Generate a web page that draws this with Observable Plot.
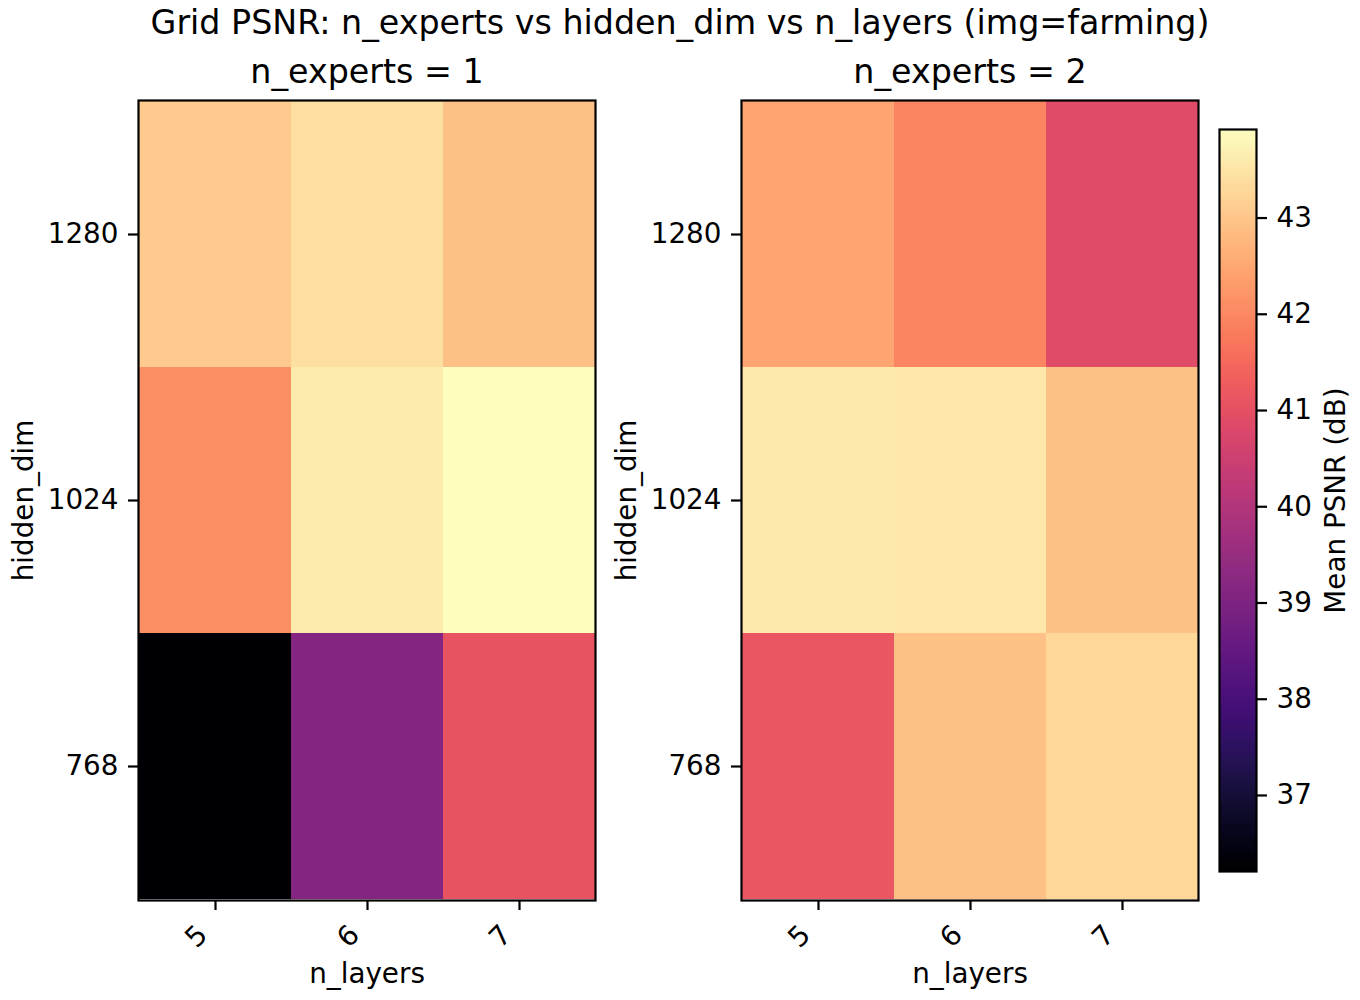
<!DOCTYPE html>
<html><head><meta charset="utf-8">
<script src="https://cdn.jsdelivr.net/npm/d3@7"></script>
<script src="https://cdn.jsdelivr.net/npm/@observablehq/plot@0.6"></script>
<style>
body{margin:0;background:#fff;}
#root{position:relative;width:1360px;height:1000px;font-family:"DejaVu Sans";overflow:hidden;}
#title{position:absolute;left:0;width:1360px;top:3px;text-align:center;font-size:33.3px;line-height:normal;color:#000;}
.abs{position:absolute;}
.abs svg{background:transparent;overflow:visible;}
</style></head><body>
<div id="root"><div id="title">Grid PSNR: n_experts vs hidden_dim vs n_layers (img=farming)</div></div>
<script>
const nLayers = [5, 6, 7];
const hiddenDims = [1280, 1024, 768];
const nExperts = [1, 2];
// rows follow hiddenDims, columns follow nLayers
const psnrExperts1 = [
  [43.07, 43.42, 42.92],
  [42.11, 43.61, 43.92],
  [36.21, 39.14, 41.08]
];
const psnrExperts2 = [
  [42.45, 41.95, 40.90],
  [43.57, 43.55, 42.92],
  [41.12, 42.90, 43.27]
];
const colorDomain = [36.21, 43.92];
const colorTicks = [37, 38, 39, 40, 41, 42, 43];

const FS = 27.8, TFS = 33.3;
const colorOpts = {type: "linear", scheme: "magma", domain: colorDomain};
const root = document.getElementById("root");

function place(node, left, top) {
  const d = document.createElement("div");
  d.className = "abs";
  d.style.left = left + "px";
  d.style.top = top + "px";
  d.appendChild(node);
  root.appendChild(d);
}

function panel(values, ne) {
  const data = [];
  hiddenDims.forEach((h, i) => nLayers.forEach((l, j) => data.push({hd: h, nl: l, v: values[i][j]})));
  return Plot.plot({
    width: 620, height: 960,
    marginTop: 60, marginBottom: 100, marginLeft: 138, marginRight: 25,
    style: {fontFamily: "DejaVu Sans", fontSize: FS + "px", background: "transparent", overflow: "visible", color: "black"},
    x: {type: "band", domain: nLayers, padding: 0},
    y: {type: "band", domain: hiddenDims, padding: 0},
    color: colorOpts,
    marks: [
      Plot.cell(data, {x: "nl", y: "hd", fill: "v", inset: 0}),
      Plot.frame({stroke: "black", strokeWidth: 2.2}),
      Plot.axisY(hiddenDims, {tickSize: 10, tickPadding: 10, strokeWidth: 2.2, fontSize: FS, label: null, fill: "black", tickFormat: d => String(d)}),
      Plot.axisX(nLayers, {tickSize: 10, tickFormat: () => "", strokeWidth: 2.2, label: null}),
      Plot.text(nLayers, {x: d => d, text: d => String(d), frameAnchor: "bottom", rotate: -45, textAnchor: "end", lineAnchor: "middle", dx: -12.7, dy: 29.7, fontSize: FS, fill: "black"}),
      Plot.text(["n_layers"], {text: d => d, frameAnchor: "bottom", textAnchor: "middle", lineAnchor: "middle", dy: 74, fontSize: FS, fill: "black"}),
      Plot.text(["hidden_dim"], {text: d => d, frameAnchor: "left", rotate: -90, textAnchor: "middle", lineAnchor: "middle", dx: -114, fontSize: FS, fill: "black"}),
      Plot.text([`n_experts = ${ne}`], {text: d => d, frameAnchor: "top", textAnchor: "middle", lineAnchor: "middle", dy: -27.7, fontSize: TFS, fill: "black"})
    ]
  });
}

place(panel(psnrExperts1, nExperts[0]), 0, 40);
place(panel(psnrExperts2, nExperts[1]), 603, 40);

// colorbar
const nSteps = 300;
const stepSize = (colorDomain[1] - colorDomain[0]) / nSteps;
const steps = d3.range(nSteps).map(i => colorDomain[0] + stepSize * i);
const cbar = Plot.plot({
  width: 160, height: 1000,
  marginLeft: 19, marginRight: 104, marginTop: 129, marginBottom: 129,
  style: {fontFamily: "DejaVu Sans", fontSize: FS + "px", background: "transparent", overflow: "visible", color: "black"},
  x: {domain: [0, 1], axis: null},
  y: {domain: colorDomain},
  color: colorOpts,
  marks: [
    Plot.rect(steps, {x1: 0, x2: 1, y1: d => d, y2: d => Math.min(d + stepSize * 1.5, colorDomain[1]), fill: d => d + stepSize / 2, shapeRendering: "crispEdges"}),
    Plot.frame({stroke: "black", strokeWidth: 2.2}),
    Plot.axisY(colorTicks, {anchor: "right", tickSize: 10, tickPadding: 10, strokeWidth: 2.2, fontSize: FS, label: null, fill: "black", tickFormat: d => String(d)}),
    Plot.text(["Mean PSNR (dB)"], {text: d => d, frameAnchor: "right", rotate: -90, textAnchor: "middle", lineAnchor: "middle", dx: 80, fontSize: FS, fill: "black"})
  ]
});
place(cbar, 1200, 0);
</script>
</body></html>
